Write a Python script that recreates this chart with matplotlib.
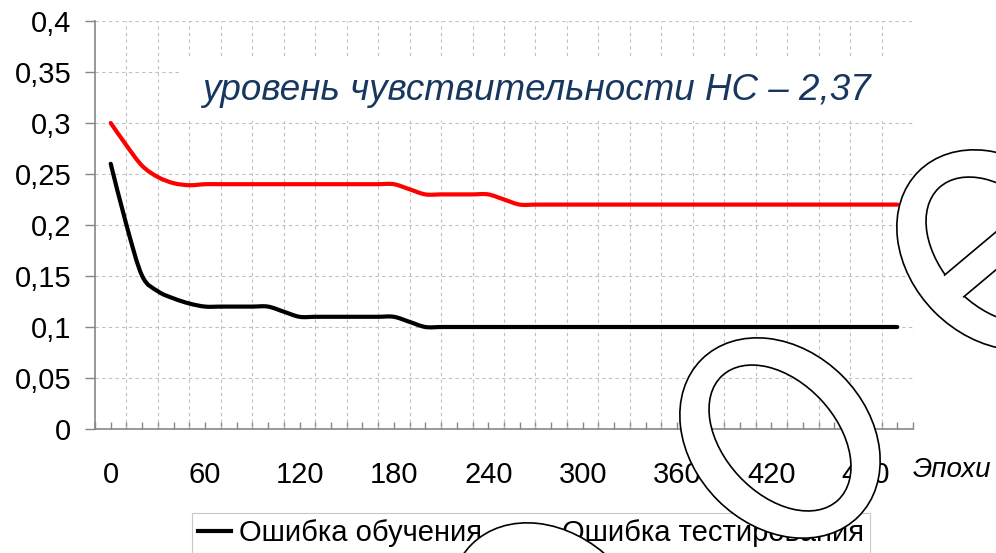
import numpy as np
import matplotlib
matplotlib.use("Agg")
import matplotlib.pyplot as plt
from matplotlib.path import Path
from matplotlib.patches import PathPatch, Ellipse, Rectangle
from matplotlib.transforms import Affine2D
from matplotlib.lines import Line2D

plt.rcParams['font.family'] = ['Liberation Sans', 'DejaVu Sans']

# epochs, one point every 10
epochs = np.arange(0, 501, 10)

train_err = [0.26, 0.20, 0.15, 0.135, 0.128, 0.123, 0.12, 0.12, 0.12, 0.12,
             0.12, 0.115, 0.11, 0.11, 0.11, 0.11, 0.11, 0.11, 0.11, 0.105,
             0.10, 0.10, 0.10, 0.10, 0.10, 0.10, 0.10, 0.10, 0.10, 0.10,
             0.10, 0.10, 0.10, 0.10, 0.10, 0.10, 0.10, 0.10, 0.10, 0.10,
             0.10, 0.10, 0.10, 0.10, 0.10, 0.10, 0.10, 0.10, 0.10, 0.10,
             0.10]
test_err = [0.30, 0.278, 0.258, 0.247, 0.241, 0.239, 0.24, 0.24, 0.24, 0.24,
            0.24, 0.24, 0.24, 0.24, 0.24, 0.24, 0.24, 0.24, 0.24, 0.235,
            0.23, 0.23, 0.23, 0.23, 0.23, 0.225, 0.22, 0.22, 0.22, 0.22,
            0.22, 0.22, 0.22, 0.22, 0.22, 0.22, 0.22, 0.22, 0.22, 0.22,
            0.22, 0.22, 0.22, 0.22, 0.22, 0.22, 0.22, 0.22, 0.22, 0.22,
            0.22]

series_labels = ["Ошибка обучения", "Ошибка тестирования"]
series_colors = ["black", "#ff0000"]

x_ticks = [0, 60, 120, 180, 240, 300, 360, 420, 480]
x_tick_labels = ["0", "60", "120", "180", "240", "300", "360", "420", "480"]
y_ticks = [0, 0.05, 0.1, 0.15, 0.2, 0.25, 0.3, 0.35, 0.4]
y_tick_labels = ["0", "0,05", "0,1", "0,15", "0,2", "0,25", "0,3", "0,35", "0,4"]
grid_x = np.arange(10, 511, 20)

note = "уровень чувствительности НС – 2,37"
x_title = "Эпохи"


def smooth_path(xs, ys):
    # excel-like smoothed line: catmull-rom as cubic bezier
    pts = np.column_stack([xs, ys]).astype(float)
    verts = [pts[0]]
    codes = [Path.MOVETO]
    n = len(pts)
    for i in range(n - 1):
        p0 = pts[i - 1] if i > 0 else pts[i]
        p1 = pts[i]
        p2 = pts[i + 1]
        p3 = pts[i + 2] if i + 2 < n else pts[i + 1]
        verts += [p1 + (p2 - p0) / 6, p2 - (p3 - p1) / 6, p2]
        codes += [Path.CURVE4] * 3
    return Path(verts, codes)


fig = plt.figure(figsize=(9.96, 5.53), dpi=100)
ax = fig.add_axes([95 / 996, 124 / 553, 818 / 996, 408 / 553])
ax.set_xlim(-10, 510)
ax.set_ylim(0, 0.4)

for s in ['top', 'right']:
    ax.spines[s].set_visible(False)
for s in ['left', 'bottom']:
    ax.spines[s].set_color('#868686')
    ax.spines[s].set_linewidth(1.2)

ax.set_axisbelow(True)
ax.yaxis.grid(True, color='#c0c0c0', lw=0.8, ls=(0, (3, 3)))
ax.vlines(grid_x, 0, 0.4, color='#c0c0c0', lw=0.8, ls=(0, (3, 3)), zorder=0.6)

ax.set_xticks(x_ticks)
ax.set_xticklabels(x_tick_labels)
ax.set_xticks(np.arange(-10, 511, 10), minor=True)
ax.set_yticks(y_ticks)
ax.set_yticklabels(y_tick_labels)
ax.tick_params(axis='x', which='both', direction='in', length=5, width=1, color='#868686')
ax.tick_params(axis='x', which='major', pad=23, labelsize=21)
ax.tick_params(axis='y', direction='out', length=7, width=1, color='#868686', pad=10, labelsize=21)

# white box behind the note
ax.add_patch(Rectangle((0.104, 0.755), 0.896, 0.157, transform=ax.transAxes,
                       facecolor='white', edgecolor='none', zorder=1.5))
ax.text(0.131, 0.806, note, transform=ax.transAxes, fontsize=26.5, style='italic',
        color='#17375E', va='baseline', ha='left', zorder=2)

for ys, c in zip([train_err, test_err], series_colors):
    ax.add_patch(PathPatch(smooth_path(epochs, ys), facecolor='none', edgecolor=c,
                           lw=3, capstyle='round', zorder=3))

fig.text(913 / 996, 1 - 470 / 553, x_title, fontsize=20, style='italic', va='center', ha='left')

handles = [Line2D([], [], color=c, lw=3) for c in series_colors]
leg = fig.legend(handles, series_labels, loc='upper left', bbox_to_anchor=(192 / 996, 1 - 513 / 553),
                 ncol=2, fontsize=21, fancybox=False, edgecolor='#c8c8c8', framealpha=1,
                 handlelength=1.15, handletextpad=0.25, columnspacing=1.35, borderpad=0.2,
                 borderaxespad=0)
leg.get_frame().set_linewidth(0.8)

# outlined ring shapes drawn over the chart (hole stays see-through)
ov = fig.add_axes([0, 0, 1, 1])
ov.set_xlim(0, 996)
ov.set_ylim(553, 0)
ov.axis('off')
ov.patch.set_visible(False)
ov.set_zorder(10)


def ring(cx, cy, bar=False, hole=True):
    circ = Path.unit_circle()
    outer = circ.transformed(Affine2D().scale(111, 88).rotate_deg(45).translate(cx, cy))
    band = outer
    if hole:
        # negative scale flips the winding so the hole is left open
        inner = circ.transformed(Affine2D().scale(85, -56).rotate_deg(47).translate(cx, cy))
        band = Path.make_compound_path(outer, inner)
    ov.add_patch(PathPatch(band, fc='white', ec='black', lw=1.2))
    if bar:
        clip = Ellipse((cx, cy), 173, 115, angle=47, transform=ov.transData)
        r = Rectangle((cx - 200, cy - 14.5), 400, 29, angle=-40, rotation_point='center',
                      fc='white', ec='black', lw=1.2)
        ov.add_patch(r)
        r.set_clip_path(clip)


ring(780, 438)
ring(997, 250, bar=True)
ring(550, 623, hole=False)

fig.savefig("out.png", dpi=100)
